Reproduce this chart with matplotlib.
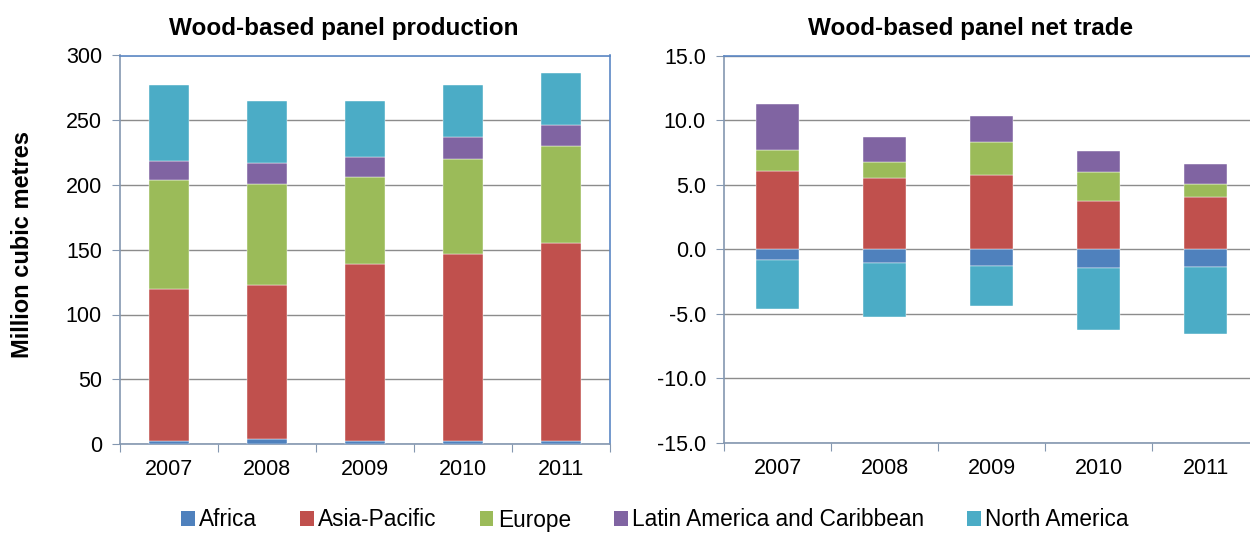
import numpy as np
import matplotlib.pyplot as plt
from matplotlib.patches import Patch

plt.rcParams['font.family'] = ['Liberation Sans', 'DejaVu Sans']

years = ['2007', '2008', '2009', '2010', '2011']
regions = ['Africa', 'Asia-Pacific', 'Europe', 'Latin America and Caribbean', 'North America']
colors = ['#4F81BD', '#C0504D', '#9BBB59', '#8064A2', '#4BACC6']

# production, million m3
prod_africa = [2.5, 4.0, 2.5, 2.5, 2.5]
prod_asia = [117.0, 119.0, 136.5, 144.5, 153.0]
prod_europe = [84.0, 78.0, 67.5, 73.0, 74.5]
prod_latam = [15.0, 16.0, 15.0, 17.0, 16.0]
prod_namerica = [59.0, 47.5, 43.5, 40.5, 40.5]

# net trade, million m3
trade_africa = [-0.85, -1.03, -1.26, -1.44, -1.34]
trade_asia = [6.06, 5.52, 5.75, 3.71, 4.02]
trade_europe = [1.63, 1.26, 2.53, 2.25, 1.01]
trade_latam = [3.56, 1.91, 2.04, 1.62, 1.55]
trade_namerica = [-3.74, -4.18, -3.15, -4.78, -5.21]

W, H = 1250, 533
fig = plt.figure(figsize=(W / 100, H / 100), dpi=100)

def box(x0, x1, ytop, ybot):
    return [x0 / W, 1 - ybot / H, (x1 - x0) / W, (ybot - ytop) / H]

ax1 = fig.add_axes(box(120, 610, 55.5, 444))
ax2 = fig.add_axes(box(724, 1259, 55.5, 443))

def stacked(ax, series):
    x = np.arange(len(years))
    pos = np.zeros(len(years))
    neg = np.zeros(len(years))
    for vals, c in zip(series, colors):
        v = np.array(vals)
        bottom = np.where(v >= 0, pos, neg)
        ax.bar(x, v, 0.4, bottom=bottom, color=c, edgecolor='white', linewidth=0.3, zorder=3)
        pos = pos + np.where(v >= 0, v, 0)
        neg = neg + np.where(v < 0, v, 0)

def style(ax, ylim, yticks, fmt):
    ax.set_xlim(-0.5, len(years) - 0.5)
    ax.set_ylim(*ylim)
    ax.set_yticks(yticks)
    ax.set_yticklabels([fmt.format(t) for t in yticks], fontsize=15.5)
    ax.set_xticks(np.arange(len(years) + 1) - 0.5)
    ax.set_xticklabels([])
    ax.set_xticks(np.arange(len(years)), minor=True)
    ax.set_xticklabels(years, minor=True, fontsize=15.5)
    ax.tick_params(axis='x', which='minor', length=0, pad=11)
    ax.tick_params(axis='x', which='major', length=6, color='#8497B0')
    ax.tick_params(axis='y', length=6, color='#8497B0', pad=7)
    ax.grid(axis='y', color='#8C8C8C', linewidth=1, zorder=0)
    ax.set_axisbelow(True)
    for s in ['left', 'bottom']:
        ax.spines[s].set_color('#8497B0')
        ax.spines[s].set_linewidth(1.2)
    for s in ['top', 'right']:
        ax.spines[s].set_color('#5B87C5')
        ax.spines[s].set_linewidth(1.2)

stacked(ax1, [prod_africa, prod_asia, prod_europe, prod_latam, prod_namerica])
style(ax1, (0, 300), np.arange(0, 301, 50), '{:.0f}')

stacked(ax2, [trade_africa, trade_asia, trade_europe, trade_latam, trade_namerica])
style(ax2, (-15, 15), np.arange(-15, 15.1, 5), '{:.1f}')

fig.text(344 / W, 1 - 28 / H, 'Wood-based panel production', fontsize=17.5, fontweight='bold', ha='center', va='center')
fig.text(971 / W, 1 - 28 / H, 'Wood-based panel net trade', fontsize=17.5, fontweight='bold', ha='center', va='center')
fig.text(23 / W, 1 - 244 / H, 'Million cubic metres', fontsize=17, fontweight='bold', rotation=90, ha='center', va='center')

handles = [Patch(facecolor=c) for c in colors]
fig.legend(handles, regions, loc='center', bbox_to_anchor=(655 / W, 1 - 520 / H), ncol=5, frameon=False,
           fontsize=16.3, handlelength=0.6, handleheight=0.6, handletextpad=0.2, columnspacing=1.9)

fig.savefig('out.png', dpi=100)
